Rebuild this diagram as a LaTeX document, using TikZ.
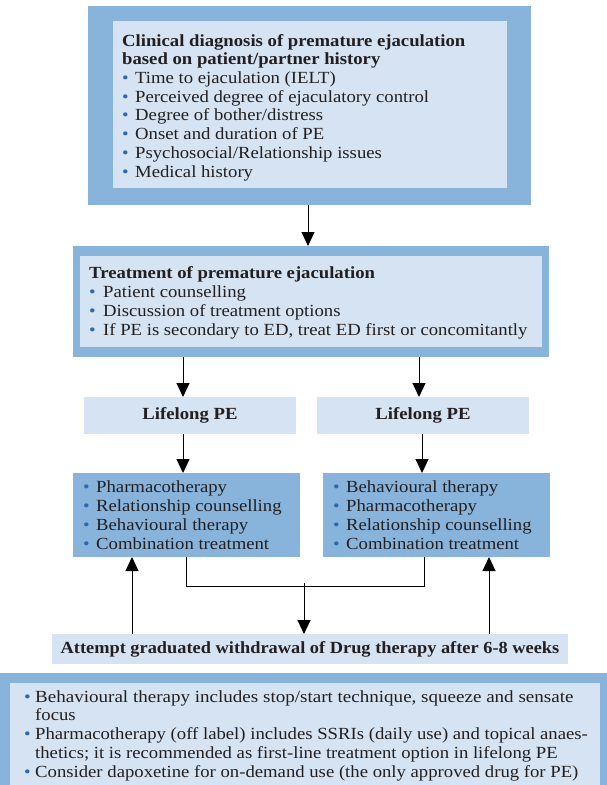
\documentclass[tikz,border=0pt]{standalone}
\usepackage{fontspec}
\setmainfont{Liberation Serif}[FakeStretch=1.1]
\usetikzlibrary{arrows.meta,calc}
\definecolor{outerblue}{HTML}{88B4DC}
\definecolor{lightblue}{HTML}{D5E3F3}
\definecolor{bulblue}{HTML}{2A6AB3}
\definecolor{txtcol}{HTML}{231F20}
\newcommand{\bl}{\makebox[13pt][l]{\color{bulblue}\textbullet}}
\newcommand{\blb}{\makebox[11pt][l]{\color{bulblue}\textbullet}}
\newcommand{\nbb}{\hspace*{11pt}}
\begin{document}
\begin{tikzpicture}[x=1pt,y=-1pt,
  rbox/.style={anchor=north west,inner sep=0pt,outer sep=0pt,draw=none},
  outer/.style={rbox,fill=outerblue},
  inner/.style={rbox,fill=lightblue},
  txt/.style={anchor=base west,inner sep=0pt,align=left,font=\fontsize{17}{18.7}\selectfont,text=txtcol},
  lbl/.style={font=\fontsize{17}{18.7}\selectfont\bfseries,text=txtcol},
  arr/.style={-{Triangle[width=13pt,length=14pt]},line width=1pt,draw=black},
  conn/.style={line width=1pt,draw=black}]
\useasboundingbox (0,0) rectangle (607,785);
\fill[white] (0,0) rectangle (607,785);

% top box
\node[outer,minimum width=443pt,minimum height=199pt] (diagO) at (88,6) {};
\node[inner,minimum width=394pt,minimum height=167pt] (diagI) at (113,21) {};
\node[txt] (diagT) at (122,177) {\textbf{Clinical diagnosis of premature ejaculation}\\
\textbf{based on patient/partner history}\\
\bl Time to ejaculation (IELT)\\
\bl Perceived degree of ejaculatory control\\
\bl Degree of bother/distress\\
\bl Onset and duration of PE\\
\bl Psychosocial/Relationship issues\\
\bl Medical history};

% treatment box
\node[outer,minimum width=476pt,minimum height=111pt] (treatO) at (73,246) {};
\node[inner,minimum width=462pt,minimum height=91pt] (treatI) at (80,256) {};
\node[txt] (treatT) at (89,335) {\textbf{Treatment of premature ejaculation}\\
\makebox[14pt][l]{\color{bulblue}\textbullet}Patient counselling\\
\makebox[14pt][l]{\color{bulblue}\textbullet}Discussion of treatment options\\
\makebox[14pt][l]{\color{bulblue}\textbullet}If PE is secondary to ED, treat ED first or concomitantly};

% lifelong PE
\node[inner,minimum width=212pt,minimum height=37pt] (lpL) at (84,397) {};
\node[lbl] at (lpL.center) {Lifelong PE};
\node[inner,minimum width=212pt,minimum height=37pt] (lpR) at (317,397) {};
\node[lbl] at (lpR.center) {Lifelong PE};

% therapy boxes
\node[outer,minimum width=227pt,minimum height=84pt] (therL) at (73,473) {};
\node[txt] (therLT) at (83,549) {\bl Pharmacotherapy\\
\bl Relationship counselling\\
\bl Behavioural therapy\\
\bl Combination treatment};
\node[outer,minimum width=227pt,minimum height=84pt] (therR) at (323,473) {};
\node[txt] (therRT) at (333,549) {\bl Behavioural therapy\\
\bl Pharmacotherapy\\
\bl Relationship counselling\\
\bl Combination treatment};

% attempt box
\node[inner,minimum width=516pt,minimum height=30pt] (att) at (52,634) {};
\node[lbl] at (att.center) {\addfontfeature{FakeStretch=1.08}Attempt graduated withdrawal of Drug therapy after 6-8 weeks};

% bottom box
\node[outer,minimum width=607pt,minimum height=112pt] (botO) at (0,673) {};
\node[inner,minimum width=590pt,minimum height=102pt] (botI) at (10,683) {};
\node[txt] (botT) at (24,777) {\addfontfeature{FakeStretch=1.12}\blb Behavioural therapy includes stop/start technique, squeeze and sensate\\
\nbb focus\\
\blb Pharmacotherapy (off label) includes SSRIs (daily use) and topical anaes-\\
\nbb thetics; it is recommended as first-line treatment option in lifelong PE\\
\blb Consider dapoxetine for on-demand use (the only approved drug for PE)};

% connectors
\draw[arr] ([xshift=-1.5pt]diagO.south) -- ([xshift=-1.5pt]diagO.south |- treatO.north);
\draw[arr] ([xshift=-7pt]lpL.north |- treatO.south) -- ([xshift=-7pt]lpL.north);
\draw[arr] ([xshift=-4pt]lpR.north |- treatO.south) -- ([xshift=-4pt]lpR.north);
\draw[arr] ([xshift=-7pt]lpL.south) -- ([xshift=-7pt]lpL.south |- therL.north);
\draw[arr] ([xshift=-1pt]lpR.south) -- ([xshift=-1pt]lpR.south |- therR.north);
\draw[conn] (therL.south) -- ++(0,29) coordinate (jL) -| ([xshift=-12.5pt]therR.south);
\coordinate (join) at ([xshift=-6pt]att.north |- jL);
\draw[arr] ([yshift=3pt]join) -- (join |- att.north);
\draw[arr] ([xshift=-178pt]att.north) -- ([xshift=-178pt]att.north |- therL.south);
\draw[arr] ([xshift=179pt]att.north) -- ([xshift=179pt]att.north |- therR.south);
\end{tikzpicture}
\end{document}
